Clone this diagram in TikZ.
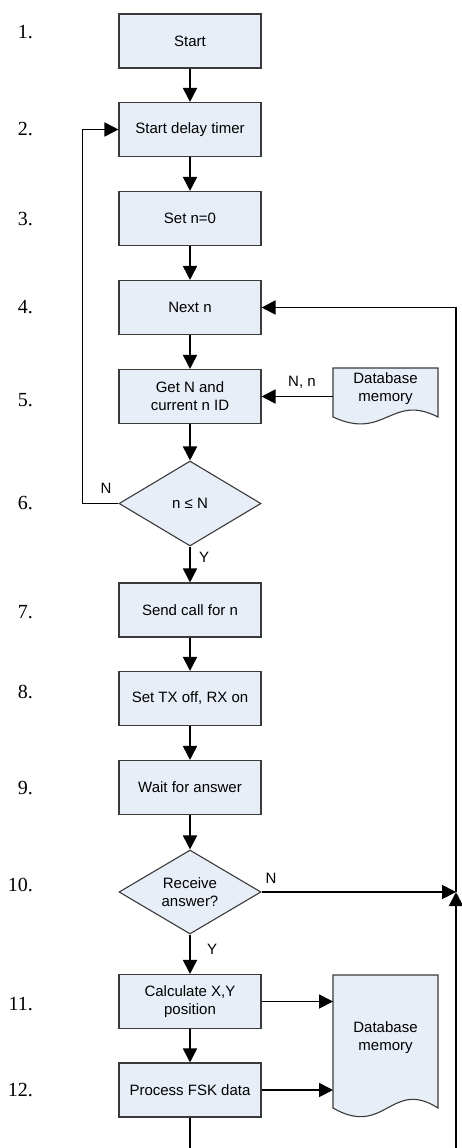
\documentclass[tikz,border=0pt]{standalone}
\usepackage{fontspec}
\setmainfont{Liberation Sans}
\newfontfamily\numfont{Liberation Serif}
\usetikzlibrary{arrows.meta,shapes.geometric}
\definecolor{boxfill}{HTML}{E8EEF7}
\definecolor{boxline}{HTML}{3A3A3A}
\begin{document}
\begin{tikzpicture}[x=1pt,y=-1pt,
  every node/.style={font=\fontsize{15}{18}\selectfont},
  procbox/.style={draw=boxline, line width=1.1pt, fill=boxfill, minimum width=142pt, minimum height=54pt, inner sep=0pt, align=center},
  decbox/.style={diamond, draw=boxline, line width=1.1pt, fill=boxfill, minimum width=142pt, minimum height=85pt, inner sep=0pt},
  docarea/.style={minimum width=105pt, inner sep=0pt, outer sep=0pt},
  docshape/.style={draw=boxline, line width=1.1pt, fill=boxfill},
  doctext/.style={align=center},
  flow/.style={line width=1.8pt, -{Triangle[length=14pt,width=14pt]}},
  plainline/.style={line width=1.8pt},
  steplabel/.style={font=\numfont\fontsize{20}{24}\selectfont, anchor=east, inner sep=0pt},
  lbl/.style={inner sep=0pt}
]
\useasboundingbox (0,0) rectangle (461,1148);

% step numbers
\node[steplabel] (n1) at (33,32) {1.};
\node[steplabel] (n2) at (33,129.5) {2.};
\node[steplabel] (n3) at (33,219) {3.};
\node[steplabel] (n4) at (33,307.5) {4.};
\node[steplabel] (n5) at (33,400) {5.};
\node[steplabel] (n6) at (33,503) {6.};
\node[steplabel] (n7) at (33,612) {7.};
\node[steplabel] (n8) at (33,692) {8.};
\node[steplabel] (n9) at (33,788) {9.};
\node[steplabel] (n10) at (33,884.5) {10.};
\node[steplabel] (n11) at (33,1004.5) {11.};
\node[steplabel] (n12) at (33,1090) {12.};

% process boxes
\node[procbox] (b1) at (190,41) {Start};
\node[procbox] (b2) at (190,129.5) {Start delay timer};
\node[procbox] (b3) at (190,218.5) {Set n=0};
\node[procbox] (b4) at (190,307.5) {Next n};
\node[procbox] (b5) at (190,396.5) {Get N and\\current n ID};
\node[decbox] (d6) at (190,503.5) {};
\node (t6) at (d6) {n ≤ N};
\node[procbox] (b7) at (190,610) {Send call for n};
\node[procbox] (b8) at (190,698.5) {Set TX off, RX on};
\node[procbox] (b9) at (190,787.5) {Wait for answer};
\node[decbox, minimum height=84pt] (d10) at (190,892) {};
\node[align=center] (t10) at (d10) {Receive\\answer?};
\node[procbox] (b11) at (190,1001.5) {Calculate X,Y\\position};
\node[procbox] (b12) at (190,1090) {Process FSK data};

% database documents
\node[docarea, minimum height=49pt] (db1) at (385.5,392.5) {};
\draw[docshape] (db1.south west) .. controls +(52,24) and +(-47,-24) .. (db1.south east)
  -- (db1.north east) -- (db1.north west) -- cycle;
\node[doctext] (tdb1) at ([yshift=4pt]db1.center) {Database\\memory};

\node[docarea, minimum height=133pt] (db2) at (385.5,1041.5) {};
\draw[docshape] (db2.south west) .. controls +(52,30) and +(-47,-30) .. (db2.south east)
  -- (db2.north east) -- (db2.north west) -- cycle;
\node[doctext] (tdb2) at ([yshift=4pt]db2.center) {Database\\memory};

% helper coordinates
\coordinate (jr) at (456,892);
\coordinate (bl) at (190,1148);
\coordinate (br) at (456,1148);

% connectors
\draw[flow] (b1) -- (b2);
\draw[flow] (b2) -- (b3);
\draw[flow] (b3) -- (b4);
\draw[flow] (b4) -- (b5);
\draw[flow] (b5) -- (d6);
\draw[flow] (d6.south) -- (b7);
\draw[flow] (d6.west) -- ++(-36,0) |- (b2.west);
\draw[flow] (b7) -- (b8);
\draw[flow] (b8) -- (b9);
\draw[flow] (b9) -- (d10);
\draw[flow] (d10.south) -- (b11);
\draw[flow] (b11) -- (b12);
\draw[flow] (db1.west |- b5.east) -- (b5.east);
\draw[flow] (b11.east) -- (b11.east -| db2.west);
\draw[flow] (b12.east) -- (b12.east -| db2.west);
\draw[flow] (d10.east) -- (jr);
\draw[flow] (br) -- (jr);
\draw[flow] (jr) |- (b4.east);
\draw[plainline] (b12.south) -- (bl);

% connector labels
\node[lbl] (lN6) at (106,488) {N};
\node[lbl] (lY6) at (204,557) {Y};
\node[lbl] (lNn) at (302,382) {N, n};
\node[lbl] (lN10) at (271,878) {N};
\node[lbl] (lY10) at (212,949) {Y};
\end{tikzpicture}
\end{document}
